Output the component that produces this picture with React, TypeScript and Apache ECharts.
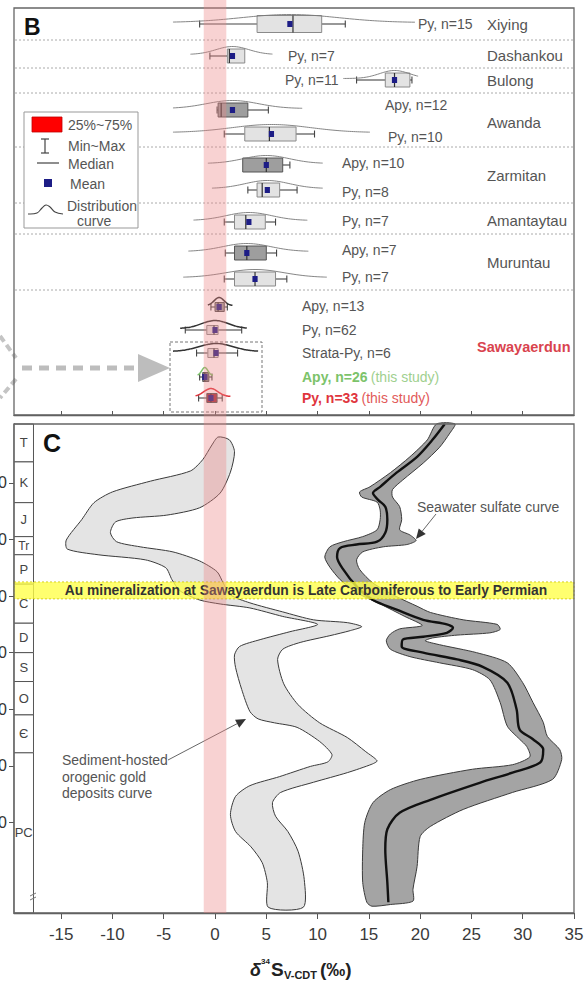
import React, { useEffect, useRef } from 'react';
import * as echarts from 'echarts';

const FONT = '"Liberation Sans", Arial, Helvetica, sans-serif';

// ---------------- Panel B data (δ34S, ‰) ----------------
const sampleLabels = ['Py, n=15', 'Py, n=7', 'Py, n=11', 'Apy, n=12', 'Py, n=10', 'Apy, n=10', 'Py, n=8', 'Py, n=7', 'Apy, n=7', 'Py, n=7', 'Apy, n=13', 'Py, n=62', 'Strata-Py, n=6', 'Apy, n=26', 'Py, n=33'];
const regionNames = ['Xiying', 'Dashankou', 'Bulong', 'Awanda', 'Zarmitan', 'Amantaytau', 'Muruntau', 'Sawayaerdun'];
const mins = [-1.5, -0.5, 13.8, 0.2, 0.9, 2.7, 3.2, 0.9, 1.0, 0.9, -0.4, -2.9, -1.8, -1.5, -1.6];
const q1s = [4.1, 1.2, 16.6, 0.3, 2.9, 2.7, 4.1, 1.9, 1.9, 1.9, 0.0, -0.8, -0.7, -1.2, -0.8];
const medians = [7.6, 1.4, 17.5, 0.6, 5.3, 5.0, 4.6, 3.0, 3.1, 3.9, 0.3, -0.1, -0.1, -1.0, -0.4];
const q3s = [10.4, 2.9, 19.0, 3.2, 7.9, 6.6, 6.3, 4.9, 5.0, 5.9, 0.9, 0.3, 0.3, -0.6, 0.2];
const maxs = [12.7, 2.9, 19.2, 5.2, 9.7, 7.3, 8.0, 5.9, 6.0, 7.0, 1.2, 2.6, 2.2, -0.3, 0.7];
const means = [7.3, 1.7, 17.5, 1.7, 5.5, 5.0, 5.1, 3.3, 3.1, 3.9, 0.4, 0.0, 0.1, -1.0, -0.4];
const distLo = [-4.1, -2.4, 12.5, -4.1, -4.1, -0.7, -0.3, -2.1, -2.6, -3.1, -0.7, -3.4, -4.1, -1.7, -1.9];
const distHi = [19.5, 5.6, 19.8, 8.5, 15.1, 10.5, 10.5, 9.0, 9.1, 10.9, 1.7, 3.1, 4.2, -0.2, 1.5];
const boxKind = ['light', 'light', 'light', 'dark', 'light', 'dark', 'light', 'light', 'dark', 'light', 'dark', 'light', 'light', 'green', 'red'];
const pinkRange = [-1.1, 1.1];

// ---------------- Panel C data ----------------
const xTicks = [-15, -10, -5, 0, 5, 10, 15, 20, 25, 30, 35];
const ageTicks = [100, 200, 300, 400, 500, 600, 700];
const periods = ['T', 'K', 'J', 'Tr', 'P', 'C', 'D', 'S', 'O', 'Є', 'PC'];
const periodBase = [63, 135, 195, 227, 279, 348, 400, 451, 510, 577, 860];
const auBand = [275, 305];

// sediment-hosted orogenic gold deposits curve: outline [δ34S, age Ma]
const goldEdgeDown = [
  [0.3, 19], [-0.3, 33], [-1.2, 59], [-2.4, 79], [-6.3, 97], [-10.0, 116], [-11.8, 135], [-13.0, 165],
  [-14.5, 201], [-14.4, 217], [-11.4, 227], [-6.8, 236], [-4.8, 250], [-4.2, 271], [-3.4, 291], [-1.5, 307],
  [0.5, 314], [3.4, 321], [6.6, 336], [10.0, 350], [7.3, 363], [4.4, 377], [2.4, 389], [1.9, 404],
  [2.0, 426], [2.6, 465], [3.4, 504], [4.2, 517], [5.8, 524], [8.0, 532], [10.2, 557], [11.4, 580],
  [11.0, 593], [9.3, 601], [6.3, 619], [3.4, 635], [2.0, 654], [1.5, 686], [2.0, 716], [3.5, 743],
  [4.6, 771], [5.1, 806], [5.2, 850],
];
const goldEdgeUp = [
  [8.6, 850], [8.7, 801], [8.1, 751], [7.1, 716], [5.9, 689], [5.6, 665], [6.4, 647], [9.6, 629],
  [12.9, 612], [15.3, 597], [15.8, 591], [14.7, 575], [12.9, 550], [10.2, 524], [8.1, 492], [6.7, 455],
  [6.1, 412], [6.6, 394], [8.3, 382], [11.2, 370], [13.2, 361], [14.3, 354], [12.9, 347], [9.6, 342],
  [6.6, 328], [3.4, 312], [1.5, 298], [0.8, 277], [0.2, 257], [-1.5, 238], [-4.1, 222], [-7.3, 213],
  [-9.6, 204], [-10.2, 188], [-9.7, 169], [-8.0, 162], [-4.7, 157], [-1.5, 144], [0.5, 118], [1.5, 81],
  [1.9, 45], [1.4, 24],
];

// seawater sulfate curve envelope and mean line
const swEdgeDown = [
  [21.6, -4], [20.7, 24], [19.0, 54], [17.1, 82], [15.1, 107], [14.1, 116], [14.3, 125], [15.8, 134],
  [16.1, 148], [16.1, 165], [15.8, 183], [14.4, 195], [12.5, 204], [11.2, 213], [10.7, 231], [11.2, 249],
  [12.2, 271], [13.8, 294], [16.1, 314], [18.5, 336], [20.2, 352], [18.0, 358], [17.1, 367], [16.7, 379],
  [17.1, 394], [19.0, 407], [21.9, 418], [25.1, 430], [26.8, 448], [27.8, 488], [28.5, 530], [29.7, 553],
  [30.4, 566], [30.7, 584], [29.0, 598], [25.1, 606], [20.0, 624], [17.1, 642], [15.4, 665], [14.6, 700],
  [14.4, 748], [14.4, 806], [14.8, 841], [15.3, 848], [17.1, 845], [19.3, 839],
];
const swEdgeUp = [
  [19.3, 818], [19.7, 778], [20.0, 725], [21.0, 707], [24.2, 677], [29.0, 647], [32.9, 624], [33.8, 589],
  [33.6, 571], [32.4, 548], [32.0, 523], [31.0, 488], [30.0, 453], [28.5, 418], [25.5, 400], [21.9, 386],
  [20.5, 379], [21.2, 374], [23.6, 369], [26.8, 365], [27.8, 359], [27.5, 350], [24.2, 342], [21.0, 329],
  [19.7, 318], [17.7, 301], [15.4, 277], [14.1, 253], [13.8, 236], [14.4, 222], [16.4, 213], [18.7, 209],
  [19.6, 202], [19.0, 192], [18.0, 183], [18.2, 165], [18.0, 142], [17.3, 125], [17.3, 112], [18.3, 95],
  [20.3, 65], [21.9, 37], [22.9, 12], [23.4, -4],
];
const swMean = [
  [22.4, -4], [21.2, 24], [19.7, 54], [17.7, 82], [16.1, 107], [15.4, 118], [15.9, 130], [16.6, 142],
  [16.8, 165], [16.6, 188], [15.8, 204], [13.8, 209], [12.2, 215], [11.9, 231], [12.5, 253], [13.8, 283],
  [15.4, 307], [17.7, 324], [20.3, 342], [22.6, 350], [23.2, 356], [22.6, 365], [20.3, 372], [18.3, 377],
  [18.2, 389], [20.3, 400], [23.6, 412], [26.1, 425], [28.5, 453], [29.4, 500], [29.7, 536], [31.0, 553],
  [32.0, 571], [31.7, 594], [29.0, 612], [25.8, 630], [21.0, 660], [18.0, 683], [16.8, 712], [16.6, 748],
  [16.8, 806], [16.9, 841],
];

// ---------------- layout (pixels) ----------------
const X_MIN = -19.6, X_MAX = 35, AGE_MIN = -4, AGE_MAX = 860, COL_RIGHT = -17.7;
const rowY = [24, 56, 80, 110, 134, 165, 190, 222, 253, 279, 307, 330, 353, 377, 398];
const labelPos = [[418, 24], [288, 56], [285, 80], [385, 105], [388, 137], [342, 163], [342, 192], [342, 221], [342, 250], [342, 277], [302, 306], [302, 330], [302, 353], [302, 377], [302, 398]];
const regionY = [24, 55, 80, 122, 175, 220, 262, 347];
const separatorsY = [40, 68, 93, 147, 203, 234, 290];

const GREEN = '#7cc36a';
const RED = '#e0353d';

function txt(text: string, x: number, y: number, o: any = {}) {
  const size = o.size || 13;
  const weight = o.weight || 'normal';
  const align = o.align || 'left';
  return {
    type: 'text', x, y, z: o.z || 30, silent: true,
    style: {
      text, fill: o.color || '#555',
      font: `${o.italic ? 'italic ' : ''}${weight} ${size}px ${FONT}`,
      textAlign: align, textVerticalAlign: 'middle', align, verticalAlign: 'middle',
    },
  };
}

function arrow(x1: number, y1: number, x2: number, y2: number, color = '#333') {
  const dx = x2 - x1, dy = y2 - y1, L = Math.hypot(dx, dy);
  const ux = dx / L, uy = dy / L, px = -uy, py = ux;
  const hl = 10, hw = 4.5;
  const bx = x2 - ux * hl, by = y2 - uy * hl;
  return [
    { type: 'line', z: 30, silent: true, shape: { x1, y1, x2: bx, y2: by }, style: { stroke: '#555', lineWidth: 0.9 } },
    { type: 'polygon', z: 30, silent: true, shape: { points: [[x2, y2], [bx + px * hw, by + py * hw], [bx - px * hw, by - py * hw]] }, style: { fill: color } },
  ];
}

export default function App() {
  const ref = useRef<HTMLDivElement>(null);
  useEffect(() => {
    const chart = echarts.init(ref.current!, undefined, { renderer: 'svg' });

    const boxSeries = {
      type: 'custom', xAxisIndex: 0, yAxisIndex: 0, z: 5,
      data: sampleLabels.map((_, i) => i),
      renderItem: (params: any, api: any) => {
        const i = params.dataIndex;
        const X = (v: number) => api.coord([v, rowY[i]])[0];
        const y = api.coord([0, rowY[i]])[1];
        const small = i >= 10;
        const bh = i === 0 ? 17 : small ? 9 : 14;
        const kind = boxKind[i];
        const fill = kind === 'light' ? '#e3e3e3' : kind === 'dark' ? '#9e9e9e' : kind === 'green' ? '#7b7f7b' : '#a8303c';
        const stroke = kind === 'light' ? '#8a8a8a' : '#555';
        const ch: any[] = [];
        const wc = '#444';
        if (mins[i] < q1s[i]) {
          ch.push({ type: 'line', shape: { x1: X(mins[i]), y1: y, x2: X(q1s[i]), y2: y }, style: { stroke: wc, lineWidth: 1.1 } });
          ch.push({ type: 'line', shape: { x1: X(mins[i]), y1: y - 3.5, x2: X(mins[i]), y2: y + 3.5 }, style: { stroke: wc, lineWidth: 1.1 } });
        }
        if (maxs[i] > q3s[i]) {
          ch.push({ type: 'line', shape: { x1: X(q3s[i]), y1: y, x2: X(maxs[i]), y2: y }, style: { stroke: wc, lineWidth: 1.1 } });
          ch.push({ type: 'line', shape: { x1: X(maxs[i]), y1: y - 3.5, x2: X(maxs[i]), y2: y + 3.5 }, style: { stroke: wc, lineWidth: 1.1 } });
        }
        ch.push({ type: 'rect', shape: { x: X(q1s[i]), y: y - bh / 2, width: X(q3s[i]) - X(q1s[i]), height: bh }, style: { fill, stroke, lineWidth: 1 } });
        ch.push({ type: 'line', shape: { x1: X(medians[i]), y1: y - bh / 2, x2: X(medians[i]), y2: y + bh / 2 }, style: { stroke: '#333', lineWidth: 1.2 } });
        ch.push({ type: 'rect', shape: { x: X(means[i]) - 2.6, y: y - 3, width: 5.2, height: 6 }, style: { fill: '#1d1d86' } });
        const lo = distLo[i], hi = distHi[i], mu = means[i];
        const sd = (hi - lo) / 5;
        const H = 8;
        const pts: number[][] = [];
        for (let k = 0; k <= 48; k++) {
          const v = lo + ((hi - lo) * k) / 48;
          const z = (v - mu) / sd;
          pts.push([X(v), y - 1.5 - H * Math.exp(-0.5 * z * z)]);
        }
        const dc = kind === 'green' ? GREEN : kind === 'red' ? RED : small ? '#333' : '#777';
        ch.push({ type: 'polyline', shape: { points: pts, smooth: 0.3 }, style: { stroke: dc, fill: 'none', lineWidth: small ? 1.5 : 0.9 } });
        return { type: 'group', children: ch };
      },
    };

    const columnSeries = {
      type: 'custom', xAxisIndex: 1, yAxisIndex: 1, z: 3,
      data: periods.map((_, i) => i),
      renderItem: (params: any, api: any) => {
        const i = params.dataIndex;
        const top = i === 0 ? AGE_MIN : periodBase[i - 1];
        const p0 = api.coord([X_MIN, top]);
        const p1 = api.coord([COL_RIGHT, periodBase[i]]);
        return {
          type: 'group', children: [
            { type: 'rect', shape: { x: p0[0], y: p0[1], width: p1[0] - p0[0], height: p1[1] - p0[1] }, style: { fill: '#fff', stroke: '#555', lineWidth: 1 } },
            { type: 'text', style: { text: periods[i], x: (p0[0] + p1[0]) / 2, y: (p0[1] + p1[1]) / 2, align: 'center', verticalAlign: 'middle', textAlign: 'center', textVerticalAlign: 'middle', fill: '#444', font: `${periods[i] === 'Tr' ? 12 : 13}px ${FONT}` } },
          ],
        };
      },
    };

    const polySeries = (edgeA: number[][], edgeB: number[][], fill: string, z: number) => ({
      type: 'custom', xAxisIndex: 1, yAxisIndex: 1, z,
      data: [0],
      renderItem: (params: any, api: any) => ({
        type: 'polygon',
        shape: { points: edgeA.concat(edgeB).map((p) => api.coord(p)), smooth: 0.25 },
        style: { fill, stroke: '#3a3a3a', lineWidth: 1 },
      }),
    });

    const auSeries = {
      type: 'custom', xAxisIndex: 1, yAxisIndex: 1, z: 8,
      data: [0],
      renderItem: (params: any, api: any) => {
        const p0 = api.coord([X_MIN, auBand[0]]);
        const p1 = api.coord([X_MAX, auBand[1]]);
        return {
          type: 'group', children: [
            { type: 'rect', shape: { x: p0[0], y: p0[1], width: p1[0] - p0[0], height: p1[1] - p0[1] }, style: { fill: 'rgba(255,255,70,0.78)', stroke: '#c9c200', lineWidth: 0.8, lineDash: [2, 2] } },
            { type: 'text', style: { text: 'Au mineralization at Sawayaerdun is Late Carboniferous to Early Permian', x: (p0[0] + p1[0]) / 2 + 12, y: (p0[1] + p1[1]) / 2, align: 'center', verticalAlign: 'middle', textAlign: 'center', textVerticalAlign: 'middle', fill: '#333', font: `bold 13.8px ${FONT}` } },
          ],
        };
      },
    };

    const option: any = {
      animation: false,
      backgroundColor: '#ffffff',
      textStyle: { fontFamily: FONT },
      grid: [
        { left: 14, right: 10, top: 8, height: 407, containLabel: false, outerBoundsMode: 'none' },
        { left: 14, right: 10, top: 424, height: 489, containLabel: false, outerBoundsMode: 'none' },
      ],
      xAxis: [
        {
          gridIndex: 0, type: 'value', min: X_MIN, max: X_MAX,
          axisLine: { show: true, onZero: false, lineStyle: { color: '#555', width: 1.3 } },
          axisTick: { show: true, inside: true, length: 4, customValues: xTicks.slice(0, -1), lineStyle: { color: '#555' } },
          axisLabel: { show: false }, splitLine: { show: false },
        },
        {
          gridIndex: 1, type: 'value', min: X_MIN, max: X_MAX,
          axisLine: { show: true, onZero: false, lineStyle: { color: '#555', width: 1.3 } },
          axisTick: { show: true, length: 6, customValues: xTicks, lineStyle: { color: '#555' } },
          axisLabel: { customValues: xTicks, fontSize: 17, color: '#3a3a3a', margin: 13, fontFamily: FONT },
          splitLine: { show: false },
        },
      ],
      yAxis: [
        { gridIndex: 0, type: 'value', min: 8, max: 415, inverse: true, show: false },
        {
          gridIndex: 1, type: 'value', min: AGE_MIN, max: AGE_MAX, inverse: true,
          axisLine: { show: true, onZero: false, lineStyle: { color: '#555', width: 1.3 } },
          axisTick: { show: true, length: 5, customValues: ageTicks, lineStyle: { color: '#555' } },
          axisLabel: { customValues: ageTicks, fontSize: 16, color: '#333', margin: 7, fontFamily: FONT },
          splitLine: { show: false },
        },
      ],
      series: [
        columnSeries,
        polySeries(goldEdgeDown, goldEdgeUp, '#e4e4e4', 4),
        polySeries(swEdgeDown, swEdgeUp, '#a4a4a4', 5),
        {
          type: 'line', xAxisIndex: 1, yAxisIndex: 1, z: 6, data: swMean, smooth: 0.3, symbol: 'none', clip: false,
          lineStyle: { color: '#111', width: 2.4 },
        },
        auSeries,
        boxSeries,
      ],
    };
    chart.setOption(option);

    const px0 = chart.convertToPixel({ xAxisIndex: 1 } as any, pinkRange[0]) as number;
    const px1 = chart.convertToPixel({ xAxisIndex: 1 } as any, pinkRange[1]) as number;

    const g: any[] = [];
    g.push({ type: 'rect', z: 25, silent: true, shape: { x: 14, y: 8, width: 560, height: 407 }, style: { fill: 'none', stroke: '#666', lineWidth: 1.3 } });
    g.push({ type: 'rect', z: 25, silent: true, shape: { x: 14, y: 424, width: 560, height: 489 }, style: { fill: 'none', stroke: '#666', lineWidth: 1.3 } });
    separatorsY.forEach((y) => g.push({ type: 'line', z: 1, silent: true, shape: { x1: 15, y1: y, x2: 573, y2: y }, style: { stroke: '#aaa', lineWidth: 1, lineDash: [2, 2] } }));
    g.push(txt('B', 24, 27, { size: 23, weight: 'bold', color: '#111' }));
    g.push(txt('C', 43, 443, { size: 25, weight: 'bold', color: '#111' }));
    sampleLabels.forEach((s, i) => {
      if (i === 13 || i === 14) return;
      g.push(txt(s, labelPos[i][0], labelPos[i][1], { size: 14, color: '#555' }));
    });
    g.push({
      type: 'text', x: labelPos[13][0], y: labelPos[13][1], z: 30, silent: true,
      style: { text: '{a|Apy, n=26} {b|(this study)}', textVerticalAlign: 'middle', verticalAlign: 'middle', rich: { a: { fill: GREEN, font: `bold 14px ${FONT}` }, b: { fill: '#9fd08f', font: `14px ${FONT}` } } },
    });
    g.push({
      type: 'text', x: labelPos[14][0], y: labelPos[14][1], z: 30, silent: true,
      style: { text: '{a|Py, n=33} {b|(this study)}', textVerticalAlign: 'middle', verticalAlign: 'middle', rich: { a: { fill: RED, font: `bold 14px ${FONT}` }, b: { fill: '#e25a5a', font: `14px ${FONT}` } } },
    });
    regionNames.forEach((r, i) => {
      if (r === 'Sawayaerdun') g.push(txt(r, 477, regionY[i], { size: 14.5, weight: 'bold', color: '#d9434e' }));
      else g.push(txt(r, 487, regionY[i], { size: 15, color: '#555' }));
    });
    // legend
    g.push({ type: 'rect', z: 20, silent: true, shape: { x: 24, y: 112, width: 114, height: 116 }, style: { fill: '#fff', stroke: '#999', lineWidth: 1 } });
    g.push({ type: 'rect', z: 21, silent: true, shape: { x: 32, y: 117, width: 30, height: 15 }, style: { fill: '#ff0000', stroke: '#c00000', lineWidth: 0.8 } });
    g.push(txt('25%~75%', 68, 125, { z: 21, size: 14 }));
    g.push({ type: 'line', z: 21, silent: true, shape: { x1: 45, y1: 139, x2: 45, y2: 153 }, style: { stroke: '#444', lineWidth: 1.2 } });
    g.push({ type: 'line', z: 21, silent: true, shape: { x1: 41, y1: 139, x2: 49, y2: 139 }, style: { stroke: '#444', lineWidth: 1.2 } });
    g.push({ type: 'line', z: 21, silent: true, shape: { x1: 41, y1: 153, x2: 49, y2: 153 }, style: { stroke: '#444', lineWidth: 1.2 } });
    g.push(txt('Min~Max', 68, 146, { z: 21, size: 14 }));
    g.push({ type: 'line', z: 21, silent: true, shape: { x1: 37, y1: 163, x2: 59, y2: 163 }, style: { stroke: '#444', lineWidth: 1.2 } });
    g.push(txt('Median', 68, 164, { z: 21, size: 14 }));
    g.push({ type: 'rect', z: 21, silent: true, shape: { x: 44, y: 179, width: 8, height: 8 }, style: { fill: '#1d1d86' } });
    g.push(txt('Mean', 70, 184, { z: 21, size: 14 }));
    g.push({ type: 'polyline', z: 21, silent: true, shape: { points: [[28, 214], [37, 213], [42, 208], [46, 205], [50, 207], [55, 212], [63, 214]], smooth: 0.4 }, style: { stroke: '#444', fill: 'none', lineWidth: 1.1 } });
    g.push(txt('Distribution', 67, 206, { z: 21, size: 14 }));
    g.push(txt('curve', 77, 221, { z: 21, size: 14 }));
    // dashed highlight box and arrow
    g.push({ type: 'rect', z: 22, silent: true, shape: { x: 170, y: 342, width: 92, height: 70 }, style: { fill: 'none', stroke: '#777', lineWidth: 1, lineDash: [3, 2] } });
    g.push({ type: 'line', z: 22, silent: true, shape: { x1: 22, y1: 368, x2: 140, y2: 368 }, style: { stroke: '#bdbdbd', lineWidth: 5, lineDash: [10, 7] } });
    g.push({ type: 'polygon', z: 22, silent: true, shape: { points: [[138, 354], [170, 368], [138, 382]] }, style: { fill: '#bdbdbd' } });
    g.push({ type: 'polyline', z: 22, silent: true, shape: { points: [[0, 336], [16, 358]] }, style: { stroke: '#c4c4c4', lineWidth: 4, lineDash: [7, 4], fill: 'none' } });
    g.push({ type: 'polyline', z: 22, silent: true, shape: { points: [[16, 379], [0, 398]] }, style: { stroke: '#c4c4c4', lineWidth: 4, lineDash: [7, 4], fill: 'none' } });
    // panel C annotations
    g.push(txt('Seawater sulfate curve', 417, 507, { size: 14, color: '#555' }));
    g.push(...arrow(436, 514, 416, 539, '#333'));
    g.push(txt('Sediment-hosted', 62, 760, { size: 14, color: '#555' }));
    g.push(txt('orogenic gold', 62, 777, { size: 14, color: '#555' }));
    g.push(txt('deposits curve', 62, 793, { size: 14, color: '#555' }));
    g.push(...arrow(168, 760, 246, 719, '#333'));
    g.push({ type: 'line', z: 26, silent: true, shape: { x1: 30, y1: 896, x2: 36, y2: 893 }, style: { stroke: '#777', lineWidth: 1 } });
    g.push({ type: 'line', z: 26, silent: true, shape: { x1: 30, y1: 900, x2: 36, y2: 897 }, style: { stroke: '#777', lineWidth: 1 } });
    // x-axis title δ34S V-CDT (‰)
    g.push(txt('δ', 250, 970, { size: 18, weight: 'bold', italic: true, color: '#222' }));
    g.push(txt('34', 261, 961, { size: 8, weight: 'bold', color: '#222' }));
    g.push(txt('S', 271, 969, { size: 19, weight: 'bold', color: '#222' }));
    g.push(txt('V-CDT', 284, 975, { size: 11, weight: 'bold', color: '#222' }));
    g.push(txt('(‰)', 320, 969, { size: 19, weight: 'bold', color: '#222' }));
    // pink reference band
    g.push({ type: 'rect', z: 40, silent: true, shape: { x: px0, y: 0, width: px1 - px0, height: 913 }, style: { fill: 'rgba(236,130,130,0.36)' } });

    chart.setOption({ graphic: g });
    return () => chart.dispose();
  }, []);
  return <div ref={ref} style={{ position: 'absolute', left: 0, top: 0, width: 584, height: 985 }} />;
}
